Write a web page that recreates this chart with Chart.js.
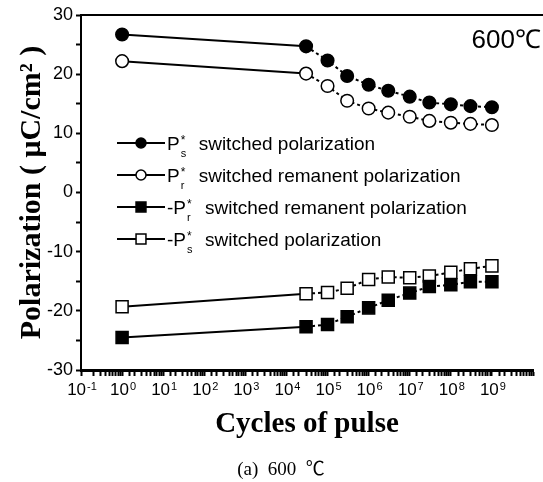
<!DOCTYPE html>
<html>
<head>
<meta charset="utf-8">
<script src="https://cdn.jsdelivr.net/npm/chart.js@4.4.0/dist/chart.umd.min.js"></script>
<style>
  body { margin: 0; background: #fff; }
</style>
</head>
<body>
<canvas id="myChart" width="543" height="482"></canvas>
<script>
// cycles of pulse (x, log scale)
const cycles = [1, 3e4, 1e5, 3e5, 1e6, 3e6, 1e7, 3e7, 1e8, 3e8, 1e9];
// polarization values, uC/cm^2
const psPos = [26.7, 24.7, 22.3, 19.7, 18.2, 17.2, 16.2, 15.2, 14.9, 14.6, 14.4];
const prPos = [22.2, 20.1, 18.0, 15.5, 14.2, 13.5, 12.8, 12.1, 11.8, 11.6, 11.4];
const prNeg = [-24.5, -22.7, -22.3, -21.0, -19.5, -18.2, -17.0, -15.9, -15.6, -15.1, -15.1];
const psNeg = [-19.3, -17.1, -16.9, -16.2, -14.7, -14.3, -14.4, -14.1, -13.5, -12.9, -12.4];

// tick labels (x: 10 raised to these exponents)
const xDecades = [-1, 0, 1, 2, 3, 4, 5, 6, 7, 8, 9];
const xExpLabels = ["-1", "0", "1", "2", "3", "4", "5", "6", "7", "8", "9"];
const yTickValues = [-30, -20, -10, 0, 10, 20, 30];
const yTickLabels = ["-30", "-20", "-10", "0", "10", "20", "30"];

// legend rows: main symbol, superscript, subscript, text
const legendRows = [
  ["P", "*", "s", "switched polarization"],
  ["P", "*", "r", "switched remanent polarization"],
  ["-P", "*", "r", "switched remanent polarization"],
  ["-P", "*", "s", "switched polarization"],
];

const sans = '"Liberation Sans", Arial, sans-serif';

function series(values) {
  return cycles.map((c, i) => ({ x: c, y: values[i] }));
}

function makeDataset(label, values, style, fill) {
  return {
    label: label,
    data: series(values),
    borderColor: "#000",
    borderWidth: 2,
    pointStyle: style,
    pointRadius: style === "rect" ? 8.5 : 6.3,
    pointBorderWidth: 1.5,
    pointBorderColor: "#000",
    pointBackgroundColor: fill,
    segment: {
      borderDash: (c) => (c.p0DataIndex === 0 ? [] : [3, 3]),
    },
  };
}

const extras = {
  id: "extras",
  afterDraw(chart) {
    const ctx = chart.ctx;
    const area = chart.chartArea;
    const xs = chart.scales.x;
    ctx.save();

    // top frame line
    ctx.strokeStyle = "#000";
    ctx.lineWidth = 2;
    ctx.beginPath();
    ctx.moveTo(area.left, area.top);
    ctx.lineTo(chart.width, area.top);
    ctx.stroke();

    // x tick labels with raised exponents
    ctx.fillStyle = "#000";
    ctx.textAlign = "left";
    ctx.textBaseline = "alphabetic";
    xDecades.forEach((e, i) => {
      const px = xs.getPixelForValue(Math.pow(10, e));
      ctx.font = "17px " + sans;
      const wb = ctx.measureText("10").width;
      ctx.font = "11px " + sans;
      const we = ctx.measureText(xExpLabels[i]).width;
      const x0 = px - (wb + 1 + we) / 2 + 1;
      ctx.font = "17px " + sans;
      ctx.fillText("10", x0, area.bottom + 25);
      ctx.font = "11px " + sans;
      ctx.fillText(xExpLabels[i], x0 + wb + 1, area.bottom + 20);
    });

    // inset legend
    legendRows.forEach((row, i) => {
      const ds = chart.data.datasets[i];
      const y = 143 + i * 32;
      ctx.strokeStyle = "#000";
      ctx.lineWidth = 2;
      ctx.setLineDash([]);
      ctx.beginPath();
      ctx.moveTo(117, y);
      ctx.lineTo(165, y);
      ctx.stroke();
      ctx.fillStyle = ds.pointBackgroundColor;
      ctx.lineWidth = 1.5;
      Chart.helpers.drawPoint(ctx, {
        pointStyle: ds.pointStyle,
        radius: ds.pointStyle === "rect" ? 7 : 5,
        borderWidth: 1.5,
        rotation: 0,
      }, 141, y);

      ctx.fillStyle = "#000";
      ctx.textAlign = "left";
      ctx.textBaseline = "alphabetic";
      ctx.font = "19px " + sans;
      const x0 = 167;
      ctx.fillText(row[0], x0, y + 7);
      const w = ctx.measureText(row[0]).width;
      ctx.font = "12px " + sans;
      ctx.fillText(row[1], x0 + w + 1, y + 1);
      ctx.font = "11px " + sans;
      ctx.fillText(row[2], x0 + w + 1, y + 14);
      ctx.font = "19px " + sans;
      ctx.fillText(row[3], x0 + w + 19, y + 7);
    });

    // temperature label
    ctx.fillStyle = "#000";
    ctx.textAlign = "right";
    ctx.font = "26px " + sans;
    ctx.fillText("600℃", 541, 48);

    // caption
    ctx.textAlign = "center";
    ctx.font = '19px "Liberation Serif", "Noto Sans CJK KR", serif';
    ctx.fillText("(a)  600  ℃", 281, 475);
    ctx.restore();
  },
};

const ctx = document.getElementById("myChart").getContext("2d");
const myChart = new Chart(ctx, {
  type: "line",
  data: {
    datasets: [
      makeDataset("P*s switched polarization", psPos, "circle", "#000"),
      makeDataset("P*r switched remanent polarization", prPos, "circle", "#fff"),
      makeDataset("-P*r switched remanent polarization", prNeg, "rect", "#000"),
      makeDataset("-P*s switched polarization", psNeg, "rect", "#fff"),
    ],
  },
  options: {
    responsive: false,
    animation: false,
    layout: { padding: { left: 0, right: 4, top: 15, bottom: 40 } },
    plugins: {
      legend: { display: false },
      tooltip: { enabled: false },
    },
    scales: {
      x: {
        type: "logarithmic",
        min: 0.1,
        max: 1e10,
        afterFit: (scale) => { scale.height = 72; },
        border: { display: true, color: "#000", width: 3 },
        grid: { display: true, drawOnChartArea: false, drawTicks: true, tickLength: 6, tickColor: "#000", tickWidth: 2 },
        ticks: {
          autoSkip: false,
          maxRotation: 0,
          padding: 3,
          color: "#000",
          font: { family: sans, size: 17 },
          callback: () => "",
        },
        title: {
          display: true,
          text: "Cycles of pulse",
          color: "#000",
          padding: { top: 4, bottom: 0 },
          font: { family: '"Liberation Serif", "Times New Roman", serif', size: 29, weight: "bold" },
        },
      },
      y: {
        min: -30,
        max: 30,
        afterFit: (scale) => { scale.width = 81; },
        border: { display: true, color: "#000", width: 2 },
        grid: { display: true, drawOnChartArea: false, drawTicks: true, tickLength: 5, tickColor: "#000", tickWidth: 2 },
        ticks: {
          stepSize: 5,
          padding: 3,
          color: "#000",
          font: { family: sans, size: 18 },
          callback: (v) => {
            const k = yTickValues.indexOf(v);
            return k < 0 ? "" : yTickLabels[k];
          },
        },
        title: {
          display: true,
          text: "Polarization ( μC/cm² )",
          color: "#000",
          padding: { top: 14, bottom: 0 },
          font: { family: '"Liberation Serif", "Times New Roman", serif', size: 30, weight: "bold" },
        },
      },
    },
  },
  plugins: [extras],
});
</script>
</body>
</html>
